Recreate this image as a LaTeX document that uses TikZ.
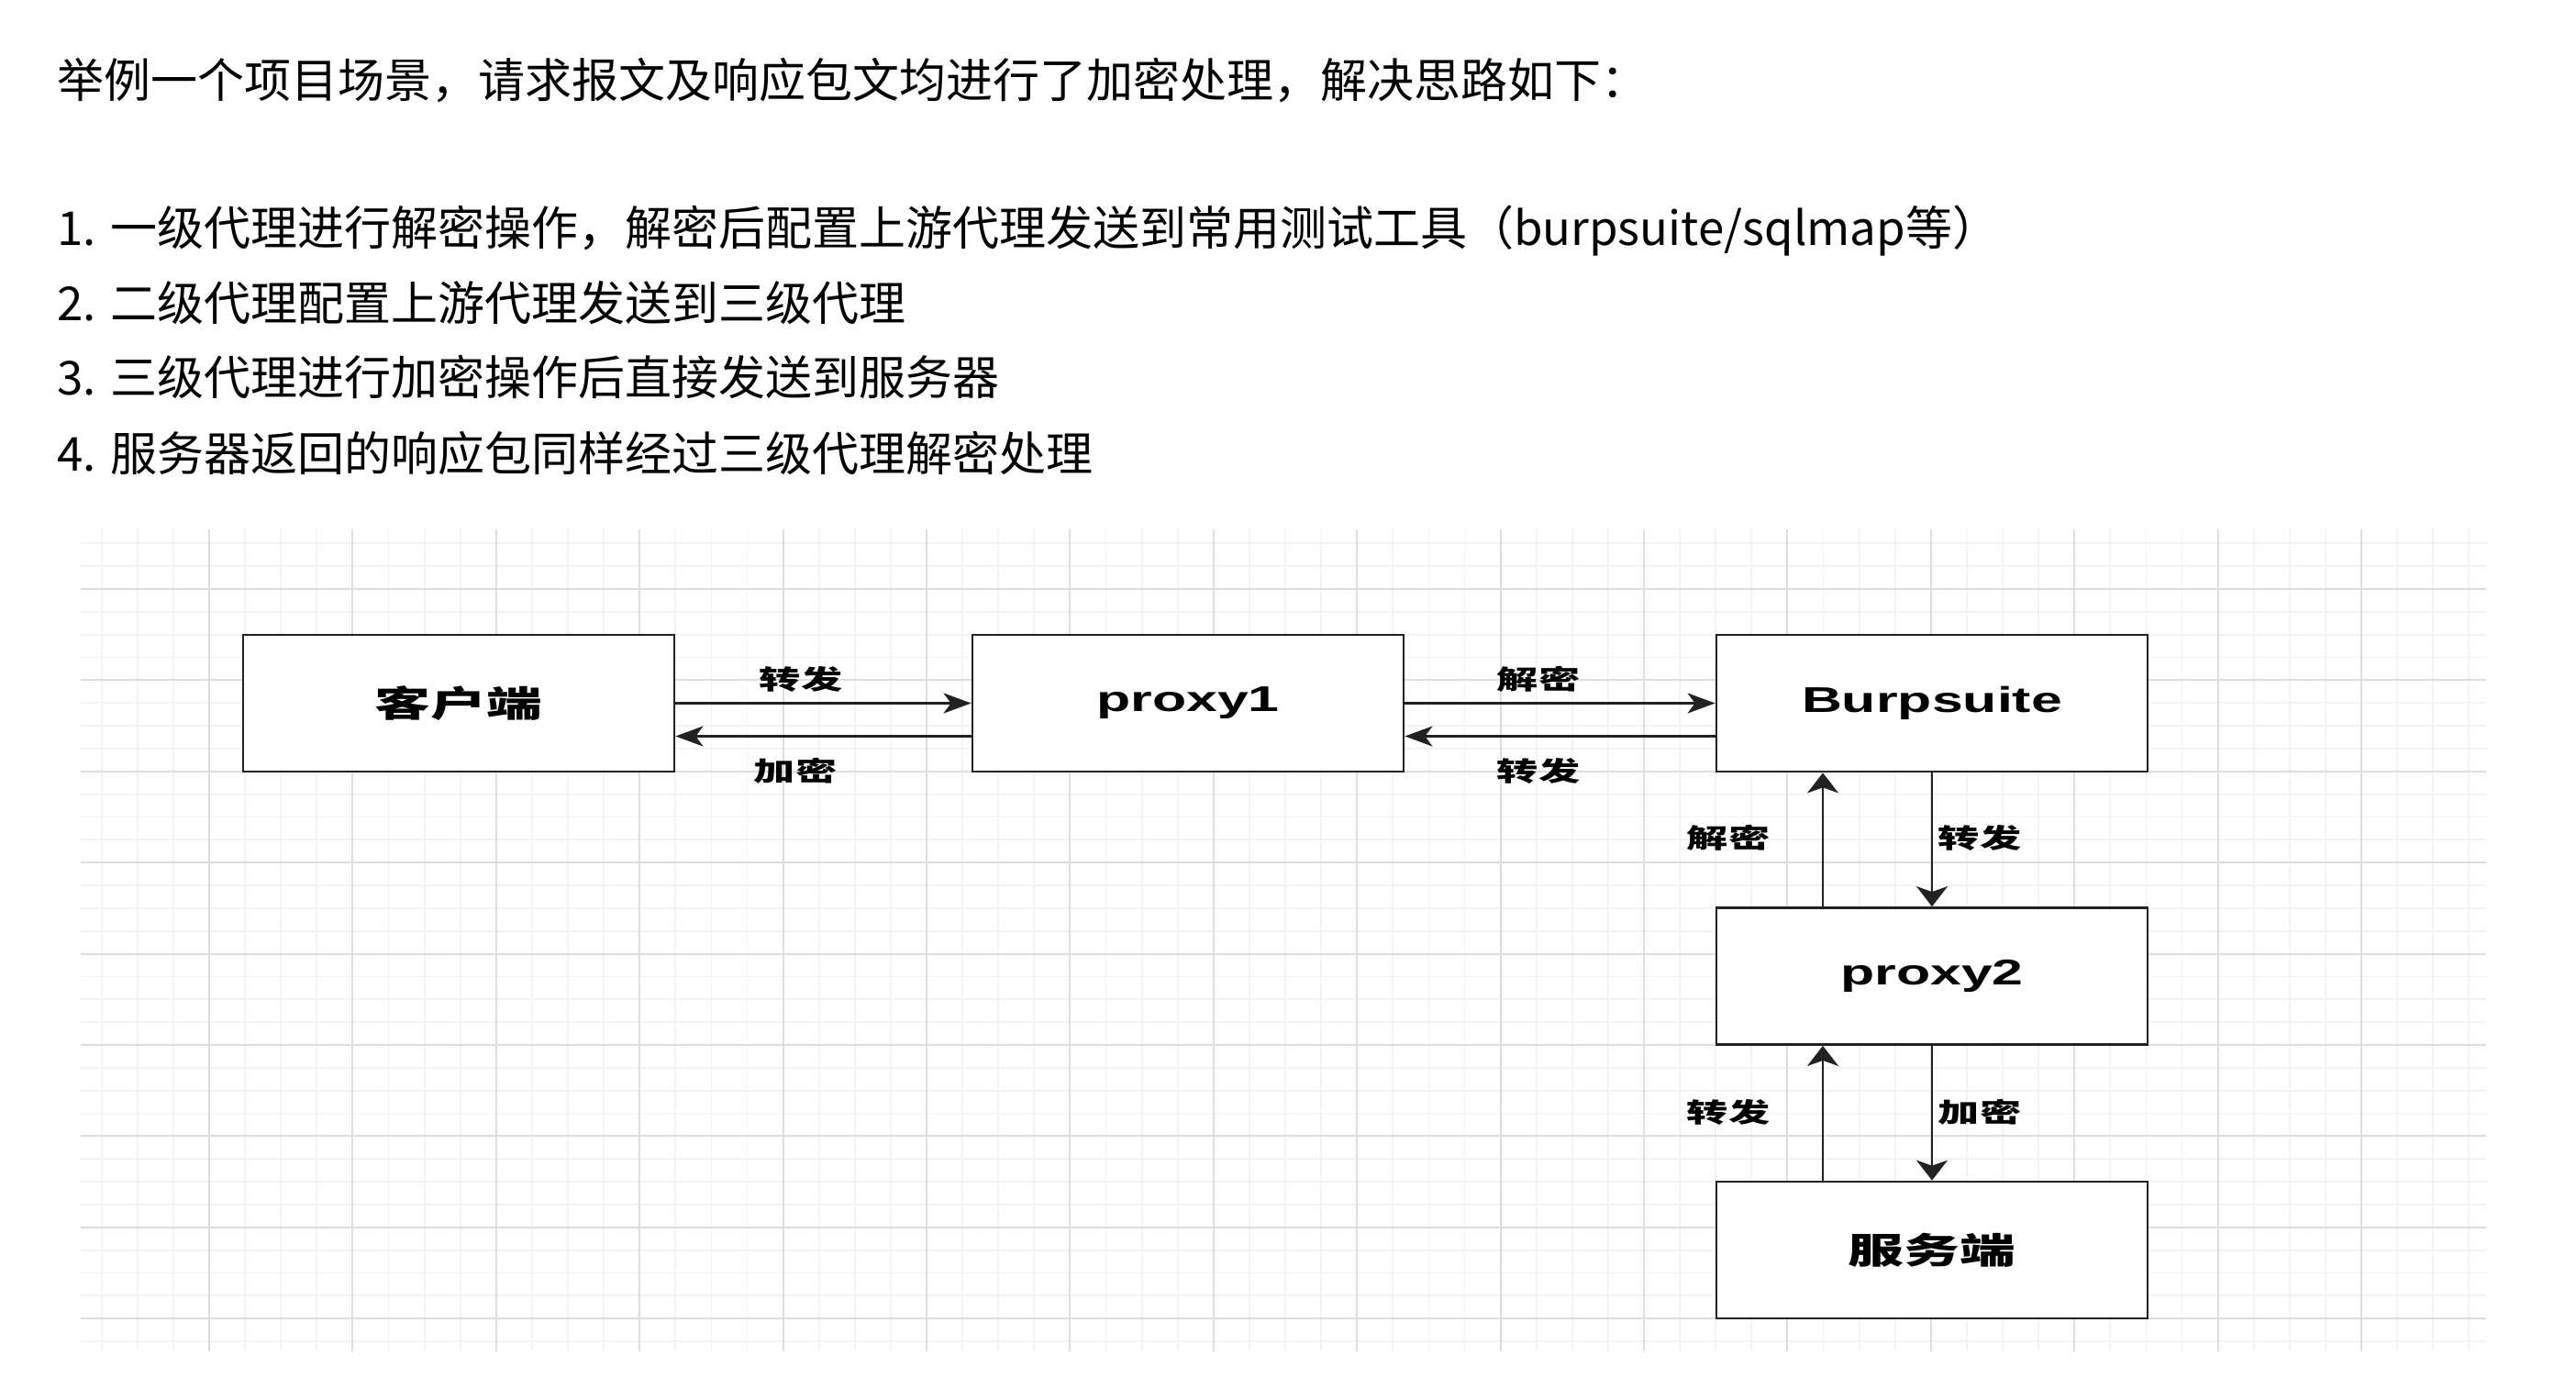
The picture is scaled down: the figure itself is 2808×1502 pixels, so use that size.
\documentclass[tikz,border=0pt]{standalone}
\usepackage{fontspec}
\usepackage{graphicx}
\setmainfont{Noto Sans CJK SC}
\newfontfamily\boxlat{Liberation Sans}
\usetikzlibrary{arrows.meta,calc}
\definecolor{gridminor}{RGB}{243,243,243}
\definecolor{gridmajor}{RGB}{222,222,222}
\definecolor{edgecol}{RGB}{34,34,34}
\begin{document}
\begin{tikzpicture}[x=0.5pt,y=-0.5pt,
  box/.style={draw=edgecol, line width=1.4pt, fill=white, minimum width=235pt, minimum height=74.5pt, inner sep=0pt},
  boxtxt/.style={font=\fontsize{19.5}{20}\selectfont\bfseries},
  lbl/.style={inner sep=0pt, font=\fontsize{14.5}{15}\selectfont\bfseries},
  harrow/.style={-{Stealth[length=15pt,width=11pt,inset=4pt]}, line width=1.35pt, draw=edgecol},
  varrow/.style={-{Stealth[length=11pt,width=17pt,inset=3pt]}, line width=1.35pt, draw=edgecol},
  body/.style={anchor=base west, inner sep=0pt, font=\fontsize{25.5}{30}\selectfont}]
\useasboundingbox[fill=white] (0,0) rectangle (2808,1502);
% grid
\foreach \k in {0,...,66} {
  \pgfmathsetmacro\xx{110.7+39.1*\k}
  \draw[gridminor, line width=0.9pt] (\xx,577) -- (\xx,1473);
}
\foreach \j in {0,...,35} {
  \pgfmathsetmacro\yy{592.3+24.85*\j}
  \draw[gridminor, line width=0.9pt] (88,\yy) -- (2710,\yy);
}
\foreach \k in {3,7,...,63} {
  \pgfmathsetmacro\xx{110.7+39.1*\k}
  \draw[gridmajor, line width=1pt] (\xx,577) -- (\xx,1473);
}
\foreach \j in {2,6,...,34} {
  \pgfmathsetmacro\yy{592.3+24.85*\j}
  \draw[gridmajor, line width=1pt] (88,\yy) -- (2710,\yy);
}
% text
\node[body] (h0) at (62,107) {举例一个项目场景，请求报文及响应包文均进行了加密处理，解决思路如下：};
\node[body] (h1) at (62,268) {1. 一级代理进行解密操作，解密后配置上游代理发送到常用测试工具（burpsuite/sqlmap等）};
\node[body] (h2) at (62,350) {2. 二级代理配置上游代理发送到三级代理};
\node[body] (h3) at (62,431) {3. 三级代理进行加密操作后直接发送到服务器};
\node[body] (h4) at (62,513) {4. 服务器返回的响应包同样经过三级代理解密处理};
% boxes
\node[box, boxtxt] (client) at (500,766.5) {\scalebox{1.56}[1]{客户端}};
\node[box, boxtxt] (proxy1) at (1295,766.5) {\scalebox{1.56}[1]{\boxlat\bfseries proxy1}};
\node[box, boxtxt] (burp) at (2106,766.5) {\scalebox{1.56}[1]{\boxlat\bfseries Burpsuite}};
\node[box, boxtxt] (proxy2) at (2106,1064) {\scalebox{1.56}[1]{\boxlat\bfseries proxy2}};
\node[box, boxtxt] (server) at (2106,1362.5) {\scalebox{1.56}[1]{服务端}};
% connectors
\draw[harrow] (client.east) -- (proxy1.west);
\draw[harrow] ($(proxy1.west)+(0,36)$) -- ($(client.east)+(0,36)$);
\draw[harrow] (proxy1.east) -- (burp.west);
\draw[harrow] ($(burp.west)+(0,36)$) -- ($(proxy1.east)+(0,36)$);
\draw[varrow] (burp.south) -- (proxy2.north);
\draw[varrow] ($(proxy2.north)+(-119,0)$) -- ($(burp.south)+(-119,0)$);
\draw[varrow] (proxy2.south) -- (server.north);
\draw[varrow] ($(server.north)+(-119,0)$) -- ($(proxy2.south)+(-119,0)$);
% labels
\node[lbl] (l1) at (873,740) {\scalebox{1.56}[1]{转发}};
\node[lbl] (l2) at (867,840) {\scalebox{1.56}[1]{加密}};
\node[lbl] (l3) at (1677,740) {\scalebox{1.56}[1]{解密}};
\node[lbl] (l4) at (1677,840) {\scalebox{1.56}[1]{转发}};
\node[lbl] (l5) at (1884,913) {\scalebox{1.56}[1]{解密}};
\node[lbl] (l6) at (2158,913) {\scalebox{1.56}[1]{转发}};
\node[lbl] (l7) at (1884,1212) {\scalebox{1.56}[1]{转发}};
\node[lbl] (l8) at (2158,1212) {\scalebox{1.56}[1]{加密}};
\end{tikzpicture}
\end{document}
